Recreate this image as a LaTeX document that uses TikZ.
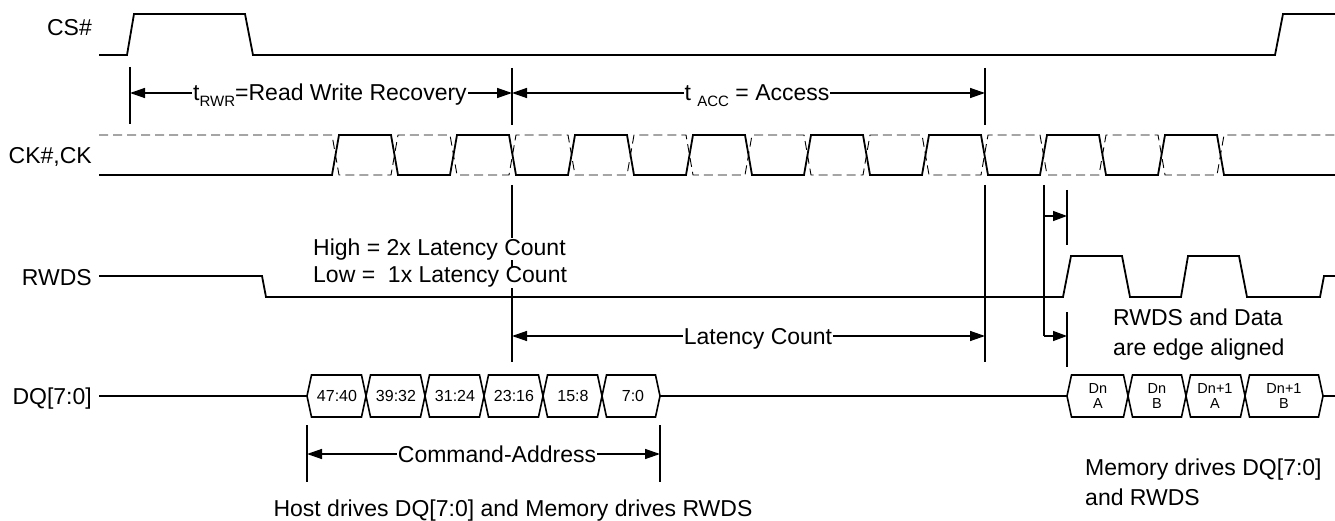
\documentclass[tikz,border=0pt]{standalone}
\usepackage{fontspec}
\setmainfont{Liberation Sans}
\usetikzlibrary{arrows.meta}
\newcommand{\subtxt}[1]{\raisebox{-6pt}{\fontsize{15}{15}\selectfont #1}}
\begin{document}
\begin{tikzpicture}[x=1pt,y=-1pt,
  sig/.style={line width=1.8pt, line join=miter},
  ckn/.style={line width=0.9pt, dash pattern=on 9pt off 5pt},
  dim/.style={line width=1.4pt},
  tip/.style={},
  dimarrow/.style={line width=1.4pt, {Triangle[length=15pt,width=10pt]}-{Triangle[length=15pt,width=10pt]}},
  endarrow/.style={line width=1.4pt, -{Triangle[length=14pt,width=10pt]}},
  lbl/.style={font=\fontsize{23}{27}\selectfont, inner sep=0pt},
  onarrow/.style={lbl, fill=white, inner xsep=1pt, inner ysep=0pt},
  boxtxt/.style={font=\fontsize{16}{18}\selectfont, inner sep=0pt},
  dtxt/.style={font=\fontsize{14.5}{15}\selectfont, inner sep=0pt, align=center},
  hexbox/.style={line width=1.6pt, line join=miter}
]
\fill[white] (0,0) rectangle (1335,521);
\useasboundingbox (0,0) rectangle (1335,521);

% signal labels
\node[lbl, anchor=base east] (lcs) at (92,36) {CS\#};
\node[lbl, anchor=base east] (lck) at (92,164) {CK\#,CK};
\node[lbl, anchor=base east] (lrwds) at (92,285) {RWDS};
\node[lbl, anchor=base east] (ldq) at (92,404) {DQ[7:0]};

% CS#
\draw[sig] (99,55) -- (127,55) -- (134,14) -- (245,14) -- (253,55) -- (1275,55) -- (1283,14) -- (1335,14);

% CK# (dashed) and CK (solid)
\draw[ckn] (99,135) foreach \k in {0,...,7} { -- ({332+118*\k},135) -- ({339+118*\k},175) -- ({391+118*\k},175) -- ({398+118*\k},135) } -- (1335,135);
\draw[sig] (99,175) foreach \k in {0,...,7} { -- ({332+118*\k},175) -- ({339+118*\k},135) -- ({391+118*\k},135) -- ({398+118*\k},175) } -- (1335,175);

% RWDS
\draw[sig] (99,276) -- (262,276) -- (266,297) -- (1063,297) -- (1071,256) -- (1122,256) -- (1130,297)
  -- (1181,297) -- (1188,256) -- (1239,256) -- (1247,297) -- (1320,297) -- (1324,276) -- (1335,276);

% DQ lines
\draw[sig] (99,396) -- (307,396);
\draw[sig] (660,396) -- (1067,396);
\draw[sig] (1323,396) -- (1335,396);
\foreach \a/\b in {307/366, 366/425, 425/484, 484/543, 543/602, 602/660, 1067/1128, 1128/1186, 1186/1245, 1245/1323}
  \draw[hexbox] (\a,396) -- ({\a+4.5},375) -- ({\b-4.5},375) -- (\b,396) -- ({\b-4.5},417) -- ({\a+4.5},417) -- cycle;

\node[boxtxt] (b1) at (337,396) {47:40};
\node[boxtxt] (b2) at (396,396) {39:32};
\node[boxtxt] (b3) at (455,396) {31:24};
\node[boxtxt] (b4) at (514,396) {23:16};
\node[boxtxt] (b5) at (573,396) {15:8};
\node[boxtxt] (b6) at (633,396) {7:0};
\node[dtxt] (d1) at (1098,396) {Dn\\A};
\node[dtxt] (d2) at (1157,396) {Dn\\B};
\node[dtxt] (d3) at (1215,396) {Dn+1\\A};
\node[dtxt] (d4) at (1284,396) {Dn+1\\B};

% vertical reference lines
\draw[dim] (130,67) -- (130,124);
\draw[dim] (512,68) -- (512,125);
\draw[dim] (985,68) -- (985,125);
\draw[dim] (512,185) -- (512,362);
\draw[dim] (985,185) -- (985,362);
\draw[dim] (1044,185) -- (1044,336);
\draw[dim] (1067,190) -- (1067,245);
\draw[dim] (1067,312) -- (1067,367);
\draw[dim] (307,425) -- (307,482);
\draw[dim] (660,425) -- (660,482);

% dimension arrows
\coordinate (rwrA) at (130,93);
\coordinate (rwrB) at (512,93);
\coordinate (accB) at (985,93);
\coordinate (latA) at (512,336);
\coordinate (latB) at (985,336);
\coordinate (caA) at (307,454);
\coordinate (caB) at (660,454);
\coordinate (s1A) at (1044,216);
\coordinate (s1B) at (1067,216);
\coordinate (s2A) at (1044,336);
\coordinate (s2B) at (1067,336);
\draw[dimarrow] (rwrA) -- (rwrB);
\draw[dimarrow] (rwrB) -- (accB);
\draw[dimarrow] (latA) -- (latB);
\draw[dimarrow] (caA) -- (caB);
\draw[endarrow] (s1A) -- (s1B);
\draw[endarrow] (s2A) -- (s2B);

\node[onarrow, anchor=base] (trwr) at (330,101) {t\subtxt{RWR}=Read Write Recovery};
\node[onarrow, anchor=base] (tacc) at (757,101) {t \subtxt{ACC} = Access};
\node[onarrow, anchor=base] (tlat) at (758,344) {Latency Count};
\node[onarrow, anchor=base] (tca) at (497,462) {Command-Address};

% annotations
\node[lbl, fill=white, anchor=base west] (hi) at (313,255) {High = 2x Latency Count};
\node[lbl, fill=white, anchor=base west] (lo) at (313,283) {Low = \ 1x Latency Count};
\node[lbl, anchor=base west] (al1) at (1113,325) {RWDS and Data};
\node[lbl, anchor=base west] (al2) at (1113,355) {are edge aligned};
\node[lbl, anchor=base west] (md1) at (1085,475) {Memory drives DQ[7:0]};
\node[lbl, anchor=base west] (md2) at (1085,505) {and RWDS};
\node[lbl, anchor=base] (host) at (513,516) {Host drives DQ[7:0] and Memory drives RWDS};
\end{tikzpicture}
\end{document}
